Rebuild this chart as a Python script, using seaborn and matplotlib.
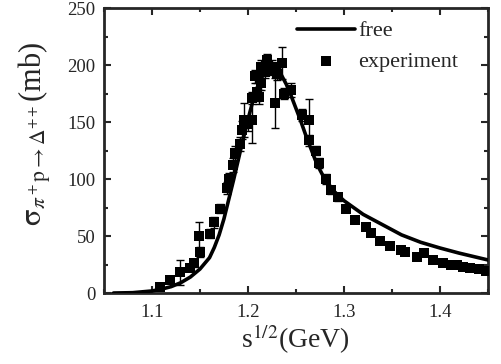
import matplotlib
matplotlib.use("Agg")
import matplotlib.pyplot as plt
import numpy as np
import pandas as pd
import seaborn as sns
from matplotlib.ticker import MultipleLocator

# free curve
free_x = [1.06, 1.08, 1.10, 1.11, 1.12, 1.13, 1.14, 1.15, 1.16, 1.165, 1.17, 1.175,
          1.18, 1.185, 1.19, 1.195, 1.20, 1.205, 1.21, 1.215, 1.22, 1.225, 1.23,
          1.235, 1.24, 1.245, 1.25, 1.255, 1.26, 1.265, 1.27, 1.275, 1.28, 1.29,
          1.30, 1.31, 1.32, 1.34, 1.36, 1.38, 1.40, 1.42, 1.44, 1.45]
free_y = [0.0, 0.3, 1.8, 3.4, 5.6, 9, 14, 21, 31, 40, 51, 65,
          82, 99, 117, 135, 152, 168, 181, 190, 195, 197, 196,
          191, 183, 173, 162, 151, 139, 128, 117, 108, 100, 89,
          81, 75, 69, 60, 51, 44.5, 39.5, 35, 31, 29]

# experiment points with error bars
exp_x = [1.108, 1.119, 1.129, 1.140, 1.144, 1.150, 1.149, 1.161, 1.165, 1.171,
         1.178, 1.180, 1.184, 1.187, 1.192, 1.194, 1.196, 1.200, 1.204, 1.204,
         1.207, 1.209, 1.212, 1.214, 1.214, 1.218, 1.220, 1.222, 1.225, 1.228,
         1.230, 1.235, 1.238, 1.245, 1.256, 1.264, 1.264, 1.271, 1.274, 1.281,
         1.287, 1.294, 1.302, 1.312, 1.323, 1.328, 1.338, 1.348, 1.359, 1.364,
         1.376, 1.383, 1.393, 1.403, 1.411, 1.418, 1.424, 1.431, 1.441, 1.448]
exp_y = [5, 11, 18, 22, 26, 36, 50, 52, 62, 74,
         92, 100, 112, 123, 131, 143, 152, 148, 152, 171,
         190, 176, 172, 198, 184, 194, 204, 196, 198, 167,
         192, 202, 175, 178, 156, 152, 134, 125, 114, 100,
         90, 84, 74, 64, 58, 53, 46, 41, 38, 36,
         32, 35, 29, 26, 25, 25, 23, 22, 21, 19]
exp_err = [2, 2, 11, 3, 3, 4, 12, 4, 5, 4,
           5, 5, 6, 6, 6, 8, 15, 6, 20, 5,
           6, 8, 6, 6, 6, 5, 6, 5, 6, 22,
           5, 14, 5, 6, 5, 18, 5, 4, 4, 4,
           3, 3, 3, 3, 2, 2, 2, 2, 2, 2,
           2, 2, 2, 1, 1, 1, 1, 1, 1, 1]

sns.set_style("ticks")
plt.rcParams["font.family"] = ["Liberation Serif", "DejaVu Serif"]
plt.rcParams["mathtext.fontset"] = "stix"

fig = plt.figure(figsize=(5.02, 3.64), dpi=100)
ax = fig.add_axes([0.207, 0.195, 0.765, 0.783])

free = pd.DataFrame({"x": free_x, "y": free_y})
exp = pd.DataFrame({"x": exp_x, "y": exp_y, "err": exp_err})

ax.errorbar(exp["x"], exp["y"], yerr=exp["err"], fmt="none", ecolor="black",
            elinewidth=1, capsize=3, capthick=1, zorder=2)
sns.scatterplot(data=exp, x="x", y="y", marker="s", s=50, color="black",
                edgecolor="black", linewidth=0, ax=ax, zorder=3, label="experiment")
sns.lineplot(data=free, x="x", y="y", color="black", linewidth=2.6, ax=ax,
             zorder=4, label="free")

ax.set_xlim(1.05, 1.45)
ax.set_ylim(0, 250)
ax.xaxis.set_major_locator(MultipleLocator(0.1))
ax.xaxis.set_minor_locator(MultipleLocator(0.05))
ax.yaxis.set_major_locator(MultipleLocator(50))
ax.yaxis.set_minor_locator(MultipleLocator(25))
ax.tick_params(which="both", direction="in", top=True, right=True, width=1.5)
ax.tick_params(which="major", length=5, labelsize=13.5)
ax.tick_params(axis="x", which="major", pad=8)
ax.tick_params(axis="y", which="major", pad=6)
ax.tick_params(which="minor", length=3)
for sp in ax.spines.values():
    sp.set_linewidth(2)

ax.set_xlabel(r"s$^{1/2}$(GeV)", fontsize=20, labelpad=1)
ax.set_ylabel(r"$\mathrm{\sigma}_{\pi^+\mathrm{p}\rightarrow\Delta^{++}}$(mb)",
              fontsize=22)
ax.yaxis.set_label_coords(-0.132, 0.56)

h, l = ax.get_legend_handles_labels()
order = [l.index("free"), l.index("experiment")]
ax.legend([h[i] for i in order], [l[i] for i in order], loc="upper left",
          bbox_to_anchor=(0.503, 0.955), frameon=False, fontsize=16,
          handlelength=2.6, handletextpad=0.15, borderaxespad=0, borderpad=0,
          labelspacing=0.45)

fig.savefig("out.png", dpi=100)
